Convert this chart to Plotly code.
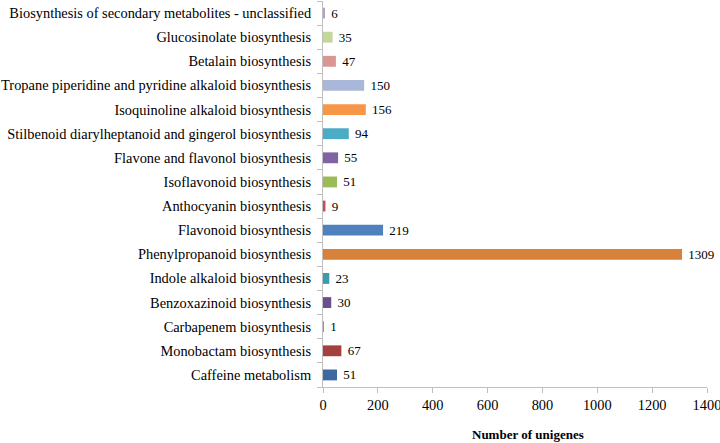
import plotly.graph_objects as go

categories = [
    "Caffeine metabolism",
    "Monobactam biosynthesis",
    "Carbapenem biosynthesis",
    "Benzoxazinoid biosynthesis",
    "Indole alkaloid biosynthesis",
    "Phenylpropanoid biosynthesis",
    "Flavonoid biosynthesis",
    "Anthocyanin biosynthesis",
    "Isoflavonoid biosynthesis",
    "Flavone and flavonol biosynthesis",
    "Stilbenoid diarylheptanoid and gingerol biosynthesis",
    "Isoquinoline alkaloid biosynthesis",
    "Tropane piperidine and pyridine alkaloid biosynthesis",
    "Betalain biosynthesis",
    "Glucosinolate biosynthesis",
    "Biosynthesis of secondary metabolites - unclassified",
]
values = [51, 67, 1, 30, 23, 1309, 219, 9, 51, 55, 94, 156, 150, 47, 35, 6]
colors = [
    "#3F67A0", "#A4403D", "#8AAA4E", "#6A4E8E", "#3A9AB0", "#D7813A",
    "#4F81BD", "#C0504D", "#9BBB59", "#8064A2", "#4BACC6", "#F79646",
    "#A9B8D8", "#D99694", "#C3D69B", "#B3A2C7",
]
x_ticks = [0, 200, 400, 600, 800, 1000, 1200, 1400]

font_family = "Liberation Serif, Times New Roman, serif"

fig = go.Figure(
    go.Bar(
        y=categories,
        x=values,
        orientation="h",
        marker=dict(color=colors, line=dict(width=0)),
        width=0.45,
        text=[" " + str(v) for v in values],
        textposition="outside",
        constraintext="none",
        textfont=dict(family=font_family, size=13, color="#000000"),
        cliponaxis=False,
    )
)

fig.update_layout(
    width=720,
    height=443,
    margin=dict(l=323, r=13, t=1, b=56, autoexpand=False),
    paper_bgcolor="white",
    plot_bgcolor="white",
    showlegend=False,
    font=dict(family=font_family, size=14.4, color="#000000"),
    bargap=0.55,
    annotations=[
        dict(
            text="<b>Number of unigenes</b>",
            xref="paper", yref="paper",
            x=(528 - 323) / 384, y=0,
            xanchor="center", yanchor="middle",
            yshift=-47,
            showarrow=False,
            font=dict(family=font_family, size=13, color="#000000"),
        )
    ],
)

fig.update_xaxes(
    range=[0, 1400.01],
    tickvals=x_ticks,
    ticktext=[str(t) for t in x_ticks],
    showgrid=False,
    zeroline=False,
    showline=True,
    linecolor="#BFBFBF",
    linewidth=1,
    ticks="outside",
    ticklen=5,
    tickcolor="#BFBFBF",
    automargin=False,
    ticklabeloverflow="allow",
    tickfont=dict(family=font_family, size=14.4, color="#000000"),
)

fig.update_yaxes(
    type="category",
    categoryorder="array",
    categoryarray=categories,
    showgrid=False,
    zeroline=False,
    showline=True,
    linecolor="#BFBFBF",
    linewidth=1,
    ticks="outside",
    ticklen=5,
    tickcolor="#BFBFBF",
    tickson="boundaries",
    automargin=False,
    tickfont=dict(family=font_family, size=14.4, color="#000000"),
    ticklabelstandoff=8,
)

fig.write_html(
    "out.html",
    config={"displayModeBar": False},
    post_script="document.body.style.margin='0';document.body.style.padding='0';",
)
